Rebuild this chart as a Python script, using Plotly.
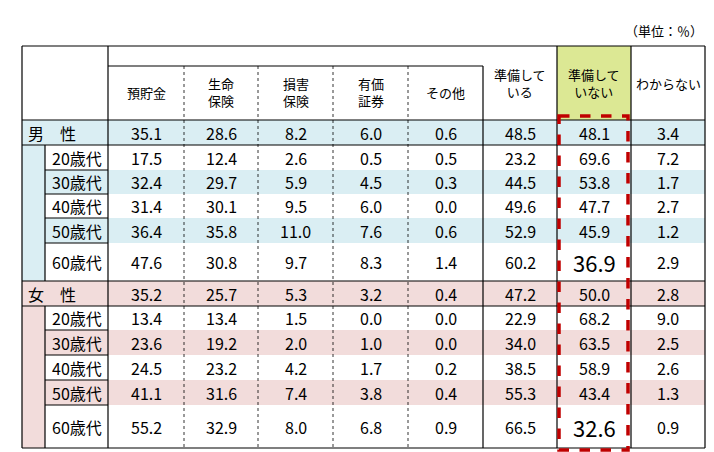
import plotly.graph_objects as go

# table data
columns = ["預貯金", "生命<br>保険", "損害<br>保険", "有価<br>証券", "その他", "準備して<br>いる", "準備して<br>いない", "わからない"]
row_labels = ["男　性", "20歳代", "30歳代", "40歳代", "50歳代", "60歳代",
              "女　性", "20歳代", "30歳代", "40歳代", "50歳代", "60歳代"]
values = [
    [35.1, 28.6, 8.2, 6.0, 0.6, 48.5, 48.1, 3.4],
    [17.5, 12.4, 2.6, 0.5, 0.5, 23.2, 69.6, 7.2],
    [32.4, 29.7, 5.9, 4.5, 0.3, 44.5, 53.8, 1.7],
    [31.4, 30.1, 9.5, 6.0, 0.0, 49.6, 47.7, 2.7],
    [36.4, 35.8, 11.0, 7.6, 0.6, 52.9, 45.9, 1.2],
    [47.6, 30.8, 9.7, 8.3, 1.4, 60.2, 36.9, 2.9],
    [35.2, 25.7, 5.3, 3.2, 0.4, 47.2, 50.0, 2.8],
    [13.4, 13.4, 1.5, 0.0, 0.0, 22.9, 68.2, 9.0],
    [23.6, 19.2, 2.0, 1.0, 0.0, 34.0, 63.5, 2.5],
    [24.5, 23.2, 4.2, 1.7, 0.2, 38.5, 58.9, 2.6],
    [41.1, 31.6, 7.4, 3.8, 0.4, 55.3, 43.4, 1.3],
    [55.2, 32.9, 8.0, 6.8, 0.9, 66.5, 32.6, 0.9],
]

col_x = [100, 176, 250, 325, 400, 475, 549, 623, 697]
row_y = [112, 137, 162, 186, 210, 235, 273, 298, 322, 347, 372, 397, 440]
BLUE = "#DAEEF3"
PINK = "#F2DCDB"
FONT = "Noto Sans CJK JP"

fig = go.Figure()
shapes = []
ann = []

def rect(x0, y0, x1, y1, fill, lw=0, color="black", dash="solid"):
    shapes.append(dict(type="rect", x0=x0, y0=y0, x1=x1, y1=y1, fillcolor=fill,
                       line=dict(width=lw, color=color, dash=dash), layer="below"))

def line(x0, y0, x1, y1, dash="solid", w=1.2):
    shapes.append(dict(type="line", x0=x0, y0=y0, x1=x1, y1=y1,
                       line=dict(width=w, color="black", dash=dash)))

# row backgrounds
for i in range(12):
    grp_color = BLUE if i < 6 else PINK
    k = i % 6
    fill = grp_color if k % 2 == 0 else "white"
    x0 = 14 if k == 0 else 37
    rect(x0, row_y[i], 697, row_y[i + 1], fill)
# left strip of groups
rect(14, row_y[1], 37, row_y[6], BLUE)
rect(14, row_y[7], 37, row_y[12], PINK)
# highlighted header
rect(549, 38, 623, 112, "#DCE894")

# lines
line(14, 38, 697, 38)
line(14, 440, 697, 440)
line(14, 38, 14, 440)
line(697, 38, 697, 440)
line(100, 38, 100, 440)
line(100, 58, 475, 58)
line(475, 58, 475, 440)
line(549, 38, 549, 440)
line(623, 38, 623, 440)
for x in col_x[1:5]:
    line(x, 58, x, 440, dash="dot", w=0.8)
line(14, 112, 697, 112)
line(14, 137, 697, 137)
line(14, 273, 697, 273)
line(14, 298, 697, 298)
line(37, 137, 37, 273)
line(37, 298, 37, 440)
for y in row_y[2:6] + row_y[8:12]:
    line(37, y, 100, y)

# red dashed box
shapes.append(dict(type="rect", x0=551, y0=108, x1=620, y1=442,
                   line=dict(width=3.5, color="#C00000", dash="dash")))

# header text
for j, c in enumerate(columns):
    cx = (col_x[j] + col_x[j + 1]) / 2
    cy = 84 if j < 5 else 75
    ann.append(dict(x=cx, y=cy, text=c, showarrow=False,
                    font=dict(size=13, family=FONT, color="black")))
ann.append(dict(x=697, y=22, text="（単位：％）", showarrow=False, xanchor="right",
                font=dict(size=13, family=FONT, color="black")))

# body text
for i in range(12):
    cy = (row_y[i] + row_y[i + 1]) / 2
    k = i % 6
    lx = 18 if k == 0 else 42
    ann.append(dict(x=lx, y=cy, text=row_labels[i], showarrow=False, xanchor="left",
                    font=dict(size=16, family=FONT, color="black")))
    for j, v in enumerate(values[i]):
        cx = (col_x[j] + col_x[j + 1]) / 2
        big = (k == 5 and j == 6)
        ann.append(dict(x=cx, y=cy, text=f"{v:.1f}", showarrow=False,
                        font=dict(size=22 if big else 16, family=FONT, color="black")))

fig.update_layout(
    width=714, height=452, margin=dict(l=0, r=0, t=0, b=0),
    plot_bgcolor="white", paper_bgcolor="white",
    xaxis=dict(range=[0, 714], visible=False, fixedrange=True),
    yaxis=dict(range=[452, 0], visible=False, fixedrange=True),
    shapes=shapes, annotations=ann, showlegend=False,
)
fig.write_html("out.html")
